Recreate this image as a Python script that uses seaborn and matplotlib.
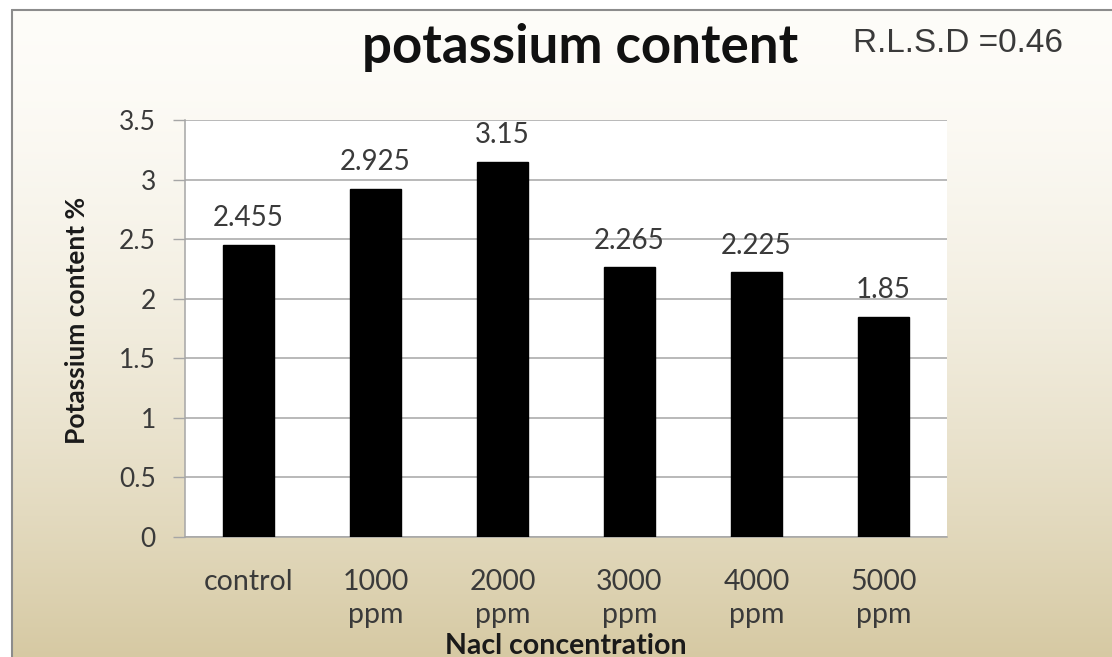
import numpy as np
import pandas as pd
import matplotlib
matplotlib.use("Agg")
import matplotlib.pyplot as plt
from matplotlib.lines import Line2D
import seaborn as sns

categories = ["control", "1000\nppm", "2000\nppm", "3000\nppm", "4000\nppm", "5000\nppm"]
values = [2.455, 2.925, 3.15, 2.265, 2.225, 1.85]
value_labels = ["2.455", "2.925", "3.15", "2.265", "2.225", "1.85"]
y_ticks = [0, 0.5, 1, 1.5, 2, 2.5, 3, 3.5]
y_tick_labels = ["0", "0.5", "1", "1.5", "2", "2.5", "3", "3.5"]

sns.set_theme(style="white")
plt.rcParams["font.family"] = ["Lato", "DejaVu Sans"]

W, H = 1112, 657
fig = plt.figure(figsize=(W / 100, H / 100), dpi=100)
fig.patch.set_facecolor("white")

# chart-area background: soft vertical gradient from off-white to tan
bg = fig.add_axes([12 / W, 0, 1 - 12 / W, 1 - 10 / H], zorder=0)
top = np.array([0.995, 0.99, 0.975])
bot = np.array([0.84, 0.79, 0.64])
t = np.linspace(0, 1, 256) ** 1.6
grad = top[None, :] * (1 - t[:, None]) + bot[None, :] * t[:, None]
bg.imshow(grad[:, None, :].repeat(4, axis=1), aspect="auto", extent=[0, 1, 0, 1],
          origin="upper", interpolation="bicubic")
bg.set_axis_off()

# outer border of the chart area
fig.add_artist(Line2D([12 / W, 12 / W], [0, 1 - 10 / H], color="#8c8c8c", lw=1.5,
                      transform=fig.transFigure, zorder=5))
fig.add_artist(Line2D([12 / W, 1], [1 - 10 / H, 1 - 10 / H], color="#8c8c8c", lw=1.5,
                      transform=fig.transFigure, zorder=5))

ax = fig.add_axes([185 / W, (H - 537) / H, 762 / W, 417 / H], zorder=2)
ax.set_facecolor("white")

df = pd.DataFrame({"conc": categories, "k": values})
sns.barplot(data=df, x="conc", y="k", color="black", width=0.4, saturation=1,
            edgecolor="black", ax=ax, zorder=3)

tick_color = "#3a3a3a"
ax.set_ylim(0, 3.5)
ax.set_xlim(-0.5, len(categories) - 0.5)
ax.set_yticks(y_ticks)
ax.set_yticklabels(y_tick_labels, fontsize=19, color=tick_color)
ax.yaxis.grid(True, color="#a6a6a6", lw=1.1, zorder=0)
ax.set_axisbelow(True)

ax.set_xticks(range(len(categories)))
ax.set_xticklabels(categories, fontsize=20.5, color=tick_color, linespacing=1.35)
ax.set_xticks(np.arange(-0.5, len(categories)), minor=True)
ax.tick_params(axis="x", which="major", length=0, pad=23)
ax.tick_params(axis="x", which="minor", length=6, width=1, color="#a6a6a6", direction="out")
ax.tick_params(axis="y", which="major", length=9, width=1, color="#a6a6a6", direction="out", pad=12,
               left=True)

for side in ["top", "right"]:
    ax.spines[side].set_visible(False)
for side in ["left", "bottom"]:
    ax.spines[side].set_color("#a6a6a6")
    ax.spines[side].set_linewidth(1.1)

# value labels sit a fixed distance above each bar
for i, (v, lab) in enumerate(zip(values, value_labels)):
    ax.annotate(lab, (i, v), xytext=(0, 19), textcoords="offset points",
                ha="center", va="center", fontsize=20, color=tick_color)

ax.set_xlabel("Nacl concentration", fontsize=20.5, fontweight="bold", color="#1a1a1a", va="center")
ax.xaxis.set_label_coords(0.5, (537 - 646) / 417)
ax.set_ylabel("Potassium content %", fontsize=19, fontweight="bold", color="#1a1a1a", va="center")
ax.yaxis.set_label_coords((77 - 185) / 762, 0.52)

fig.text(580 / W, 1 - 48 / H, "potassium content", ha="center", va="center",
         fontsize=38, fontweight="bold", color="#111111")
fig.text(958 / W, 1 - 43 / H, "R.L.S.D =0.46", ha="center", va="center",
         fontsize=24, color="#3a3a3a", family=["Liberation Sans", "DejaVu Sans"])

fig.savefig("out.png", dpi=100, facecolor=fig.get_facecolor())
